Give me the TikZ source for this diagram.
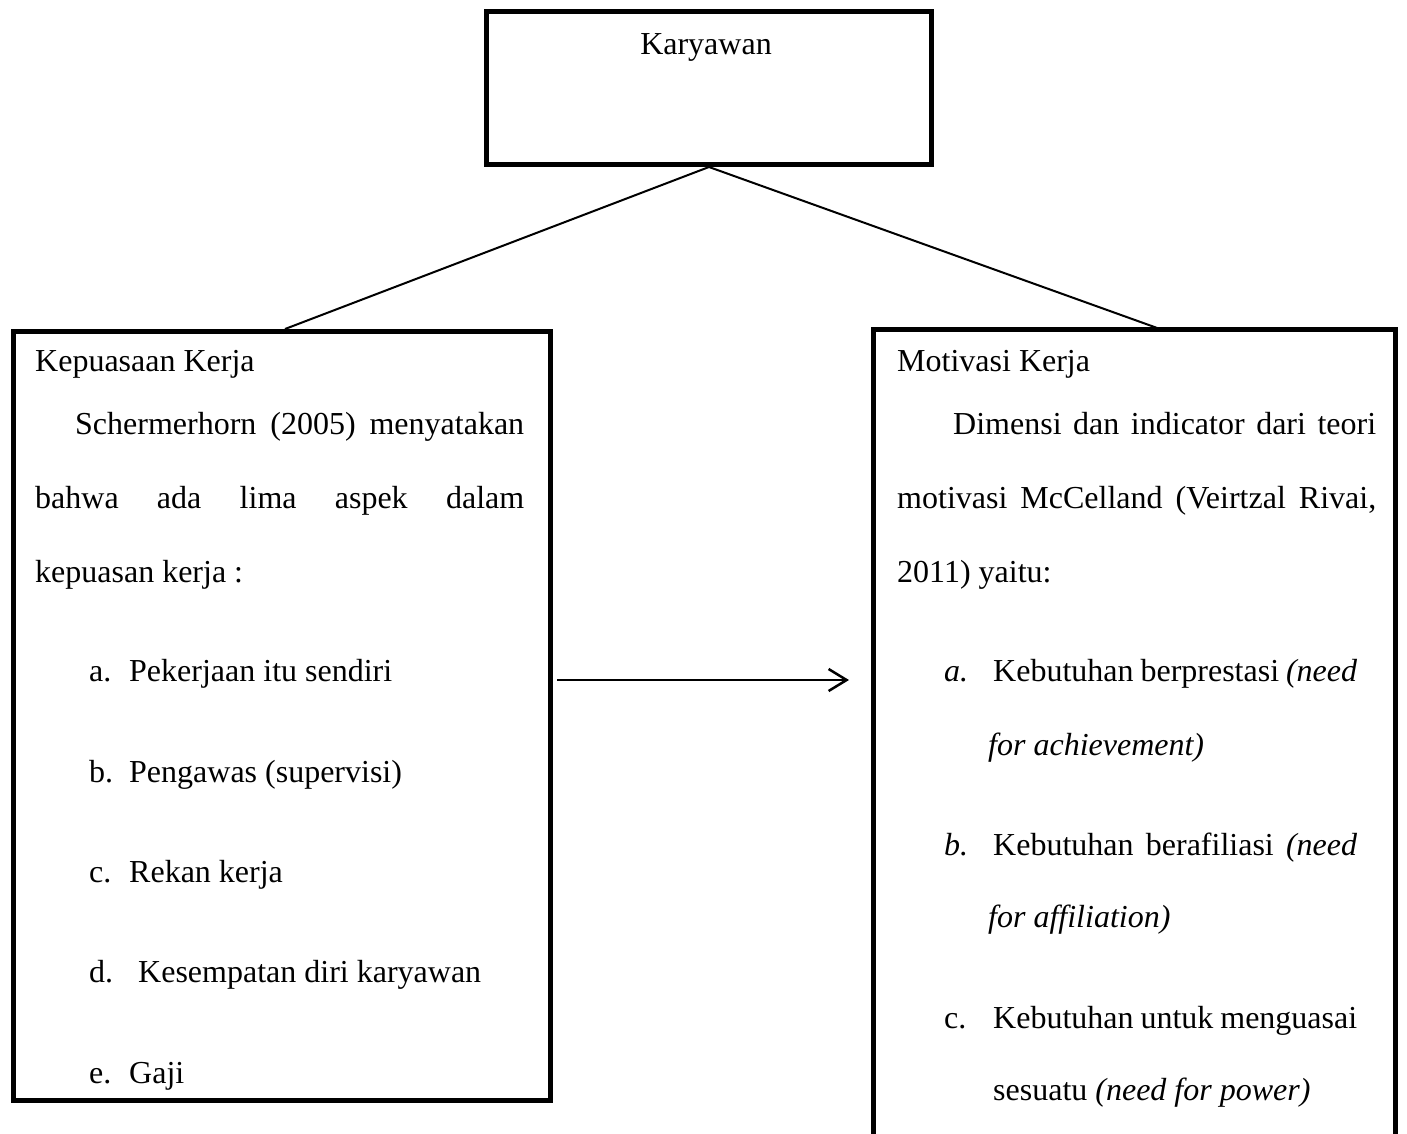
\documentclass[tikz,border=0pt]{standalone}
\usepackage{fontspec}
\setmainfont{Liberation Serif}
\usetikzlibrary{arrows.meta}
\tikzset{
  boxframe/.style={draw, line width=5pt, inner sep=0pt},
  txt/.style={anchor=base west, inner sep=0pt, font=\fontsize{32}{38}\selectfont},
  link/.style={line width=2pt},
  flow/.style={line width=2.5pt, -{Straight Barb[length=18pt,width=22pt,line width=2.5pt]}}
}
\begin{document}
\begin{tikzpicture}[x=1pt,y=-1pt]
\useasboundingbox (0,0) rectangle (1407,1133);
% boxes
\node[boxframe, minimum width=445pt, minimum height=153pt, anchor=north west] (top) at (484,9) {};
\node[boxframe, minimum width=537pt, minimum height=769pt, anchor=north west] (lbox) at (11,329) {};
\node[inner sep=0pt, minimum width=522pt, minimum height=830pt, anchor=north west] (rbox) at (873,329) {};
\draw[line width=5pt] (rbox.south west) -- (rbox.north west) -- (rbox.north east) -- (rbox.south east);
% connectors
\coordinate (lin) at (285,329);
\coordinate (rin) at (1160,329);
\draw[link] (top.south) -- (lin);
\draw[link] (top.south) -- (rin);
\coordinate (as) at (557,680);
\coordinate (ae) at (849,680);
\draw[flow] (as) -- (ae);
% top text
\node[txt, anchor=base] (tk) at (706,54) {Karyawan};
% left text
\node[txt] (l1) at (35,371) {Kepuasaan Kerja};
\node[txt] (l2) at (75,434) {\makebox[449pt][s]{Schermerhorn (2005) menyatakan}};
\node[txt] (l3) at (35,508) {\makebox[489pt][s]{bahwa ada lima aspek dalam}};
\node[txt] (l4) at (35,582) {kepuasan kerja :};
\node[txt] (la1) at (89,681) {a.};
\node[txt] (la2) at (129,681) {Pekerjaan itu sendiri};
\node[txt] (lb1) at (89,782) {b.};
\node[txt] (lb2) at (129,782) {Pengawas (supervisi)};
\node[txt] (lc1) at (89,882) {c.};
\node[txt] (lc2) at (129,882) {Rekan kerja};
\node[txt] (ld1) at (89,982) {d.};
\node[txt] (ld2) at (138,982) {Kesempatan diri karyawan};
\node[txt] (le1) at (89,1083) {e.};
\node[txt] (le2) at (129,1083) {Gaji};
% right text
\node[txt] (r1) at (897,371) {Motivasi Kerja};
\node[txt] (r2) at (953,434) {\makebox[423pt][s]{Dimensi dan indicator dari teori}};
\node[txt] (r3) at (897,508) {\makebox[479pt][s]{motivasi McCelland (Veirtzal Rivai,}};
\node[txt] (r4) at (897,582) {2011) yaitu:};
\node[txt] (ra1) at (944,681) {\itshape a.};
\node[txt] (ra2) at (993,681) {\makebox[364pt][s]{Kebutuhan berprestasi \textit{(need}}};
\node[txt] (ra3) at (988,755) {\itshape for achievement)};
\node[txt] (rb1) at (944,855) {\itshape b.};
\node[txt] (rb2) at (993,855) {\makebox[364pt][s]{Kebutuhan berafiliasi \textit{(need}}};
\node[txt] (rb3) at (988,927) {\itshape for affiliation)};
\node[txt] (rc1) at (944,1028) {c.};
\node[txt] (rc2) at (993,1028) {\makebox[364pt][s]{Kebutuhan untuk menguasai}};
\node[txt] (rc3) at (993,1100) {sesuatu \textit{(need for power)}};
\end{tikzpicture}
\end{document}
